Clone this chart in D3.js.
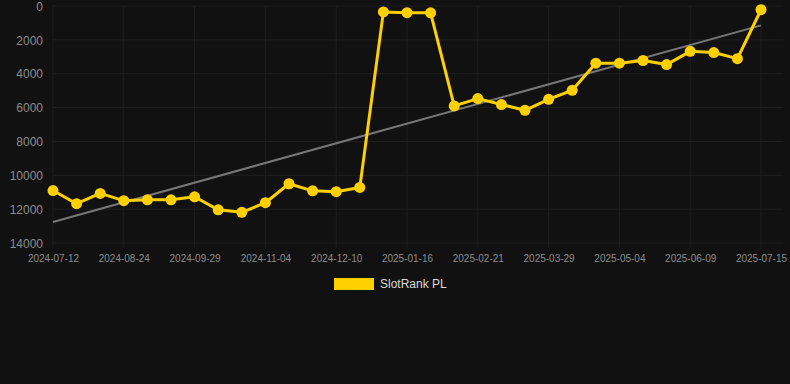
<!DOCTYPE html>
<html lang="en">
<head>
<meta charset="utf-8" />
<title>SlotRank PL</title>
<script src="https://d3js.org/d3.v7.min.js"></script>
<style>
	body { margin: 0; background: #111111; }
	svg { display: block; font-family: "Liberation Sans", Arial, sans-serif; }
	.grid line { stroke: #1f1f1f; stroke-width: 1; }
</style>
</head>
<body>
<svg width="790" height="384"></svg>
<script>

//	categories (dates of each ranking sample)
var dates = [
	"2024-07-12", "2024-07-26", "2024-08-09", "2024-08-24", "2024-09-05", "2024-09-17",
	"2024-09-29", "2024-10-11", "2024-10-23", "2024-11-04", "2024-11-16", "2024-11-28",
	"2024-12-10", "2024-12-22", "2025-01-03", "2025-01-16", "2025-01-28", "2025-02-09",
	"2025-02-21", "2025-03-05", "2025-03-17", "2025-03-29", "2025-04-10", "2025-04-22",
	"2025-05-04", "2025-05-16", "2025-05-28", "2025-06-09", "2025-06-21", "2025-07-03",
	"2025-07-15"
];

//	series values (rank, lower is better)
var ranks = [
	10900, 11680, 11070, 11500, 11450, 11450, 11270, 12040, 12190, 11620, 10500, 10920,
	10970, 10720, 350, 395, 400, 5900, 5470, 5820, 6160, 5510, 4980, 3380,
	3380, 3220, 3460, 2680, 2750, 3110, 220
];

//	tick labels
var yTicks = [0, 2000, 4000, 6000, 8000, 10000, 12000, 14000];
var xTickLabels = dates.filter(function(d, i) { return i % 3 === 0; });

var seriesName = "SlotRank PL";

//	svg selection and sizing
var svg = d3.select("svg"),
	mLeft = 53, mRight = 761, mTop = 6, mBottom = 243;

var x = d3.scalePoint().domain(dates).range([mLeft, mRight]);
var y = d3.scaleLinear().domain([0, 14000]).range([mTop, mBottom]);

//	grid
var grid = svg.append("g").attr("class", "grid");
grid.selectAll(".h").data(yTicks).enter().append("line")
	.attr("x1", mLeft).attr("x2", mRight + 22)
	.attr("y1", function(d) { return y(d); })
	.attr("y2", function(d) { return y(d); });
grid.selectAll(".v").data(xTickLabels).enter().append("line")
	.attr("x1", function(d) { return x(d); })
	.attr("x2", function(d) { return x(d); })
	.attr("y1", mTop).attr("y2", mBottom + 5);

//	axes
var yAxis = svg.append("g")
	.attr("transform", "translate(" + (mLeft - 10) + ",0)")
	.call(d3.axisLeft(y).tickValues(yTicks).tickSize(0).tickFormat(d3.format("d")));
yAxis.select(".domain").remove();
yAxis.selectAll("text").attr("fill", "#8c8c8c").attr("font-size", 12).attr("dy", "0.35em").attr("x", 0);

var xAxis = svg.append("g")
	.attr("transform", "translate(0," + mBottom + ")")
	.call(d3.axisBottom(x).tickValues(xTickLabels).tickSize(0));
xAxis.select(".domain").remove();
xAxis.selectAll("text").attr("fill", "#8c8c8c").attr("font-size", 10).attr("y", 12).attr("dy", "0.71em");

//	trend line (least squares fit of the series)
var n = ranks.length,
	mx = d3.mean(ranks, function(d, i) { return i; }),
	my = d3.mean(ranks),
	sxy = d3.sum(ranks, function(d, i) { return (i - mx) * (d - my); }),
	sxx = d3.sum(ranks, function(d, i) { return (i - mx) * (i - mx); }),
	slope = sxy / sxx,
	icpt = my - slope * mx;

svg.append("line")
	.attr("x1", x(dates[0])).attr("y1", y(icpt))
	.attr("x2", x(dates[n - 1])).attr("y2", y(icpt + slope * (n - 1)))
	.attr("stroke", "#777777").attr("stroke-width", 2);

//	series line and points
var line = d3.line()
	.x(function(d, i) { return x(dates[i]); })
	.y(function(d) { return y(d); });

svg.append("path")
	.datum(ranks)
	.attr("d", line)
	.attr("fill", "none")
	.attr("stroke", "#ffd000")
	.attr("stroke-width", 3)
	.attr("stroke-linejoin", "round");

svg.append("g").selectAll("circle").data(ranks).enter().append("circle")
	.attr("cx", function(d, i) { return x(dates[i]); })
	.attr("cy", function(d) { return y(d); })
	.attr("r", 5.5)
	.attr("fill", "#ffd000");

//	legend
var legend = svg.append("g").attr("transform", "translate(334,278)");
legend.append("rect").attr("width", 40).attr("height", 12).attr("fill", "#ffd000");
legend.append("text").attr("x", 46).attr("y", 6).attr("dy", "0.35em")
	.attr("fill", "#d9d9d9").attr("font-size", 12).text(seriesName);

</script>
</body>
</html>
